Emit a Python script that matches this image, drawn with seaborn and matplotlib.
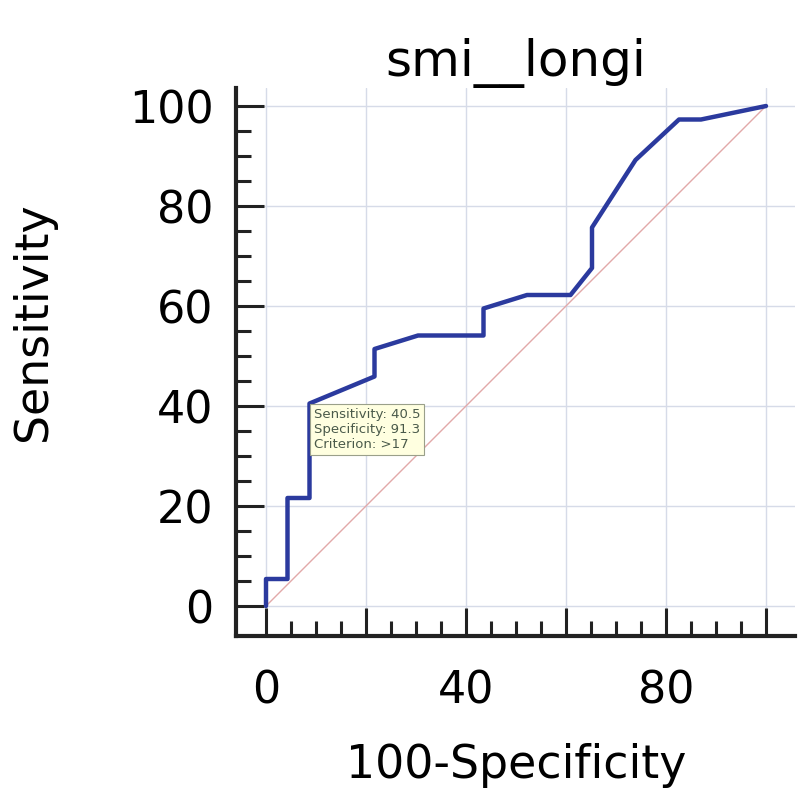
import numpy as np
import pandas as pd
import seaborn as sns
import matplotlib
matplotlib.use("Agg")
import matplotlib.pyplot as plt
from matplotlib.ticker import FixedLocator, FixedFormatter

# ROC points (100-Specificity, Sensitivity)
fpr = [0, 0, 4.3, 4.3, 8.7, 8.7, 21.7, 21.7, 30.4, 43.5, 43.5, 52.2, 60.9,
       65.2, 65.2, 73.9, 82.6, 87.0, 100]
tpr = [0, 5.4, 5.4, 21.6, 21.6, 40.5, 45.9, 51.4, 54.1, 54.1, 59.5, 62.2, 62.2,
       67.6, 75.7, 89.2, 97.3, 97.3, 100]
diag = [0, 100]

xtick_vals = [0, 20, 40, 60, 80, 100]
xtick_labels = ["0", "", "40", "", "80", ""]
ytick_vals = [0, 20, 40, 60, 80, 100]
minor_vals = [v for v in range(5, 100, 5) if v % 20 != 0]

title = "smi__longi"
xlabel = "100-Specificity"
ylabel = "Sensitivity"
tip_point = (8.7, 40.5)
tip_text = "Sensitivity: 40.5\nSpecificity: 91.3\nCriterion: >17"

roc = pd.DataFrame({"fpr": fpr, "tpr": tpr})

sns.set_style("white")
plt.rcParams["font.family"] = ["DejaVu Sans"]

fig = plt.figure(figsize=(8, 7.99), dpi=100)
ax = fig.add_axes([236/800, 1 - 636/799, 559/800, 548/799])

ax.grid(True, color="#d6dbe8", linewidth=1.0)
ax.set_axisbelow(True)

sns.lineplot(x=diag, y=diag, ax=ax, color="#e2a9a9", linewidth=1.0)
sns.lineplot(data=roc, x="fpr", y="tpr", ax=ax, sort=False, estimator=None,
             color="#2b3a9e", linewidth=3.2)

ax.set_xlim(-6, 105.8)
ax.set_ylim(-6, 103.6)

ax.xaxis.set_major_locator(FixedLocator(xtick_vals))
ax.xaxis.set_major_formatter(FixedFormatter(xtick_labels))
ax.yaxis.set_major_locator(FixedLocator(ytick_vals))
ax.xaxis.set_minor_locator(FixedLocator(minor_vals))
ax.yaxis.set_minor_locator(FixedLocator(minor_vals))

ax.tick_params(axis="both", which="both", bottom=True, left=True,
               top=False, right=False)
ax.tick_params(axis="both", which="major", direction="in", length=20,
               width=2.2, color="#222222", labelsize=32, labelcolor="black")
ax.tick_params(axis="both", which="minor", direction="in", length=11,
               width=2.2, color="#222222")
ax.tick_params(axis="y", which="major", pad=16)
ax.tick_params(axis="x", which="major", pad=24)

for side in ["top", "right"]:
    ax.spines[side].set_visible(False)
for side in ["left", "bottom"]:
    ax.spines[side].set_linewidth(3)
    ax.spines[side].set_color("#222222")

ax.set_xlabel("")
ax.set_ylabel("")
ax.set_title(title, fontsize=36, pad=8, color="black")
fig.text(516/800, 1 - 766/799, xlabel, fontsize=33, ha="center", va="center",
         color="black")
fig.text(34/800, 1 - 322/799, ylabel, fontsize=33, ha="center", va="center",
         rotation=90, color="black")

ax.annotate(tip_text, xy=tip_point, xytext=(3, -3), textcoords="offset points",
            ha="left", va="top", fontsize=9.5, color="#4a5a4a", linespacing=1.2,
            bbox=dict(boxstyle="square,pad=0.3", facecolor="#ffffe0",
                      edgecolor="#9aa08a", linewidth=0.8))

fig.savefig("out.png", dpi=100)
